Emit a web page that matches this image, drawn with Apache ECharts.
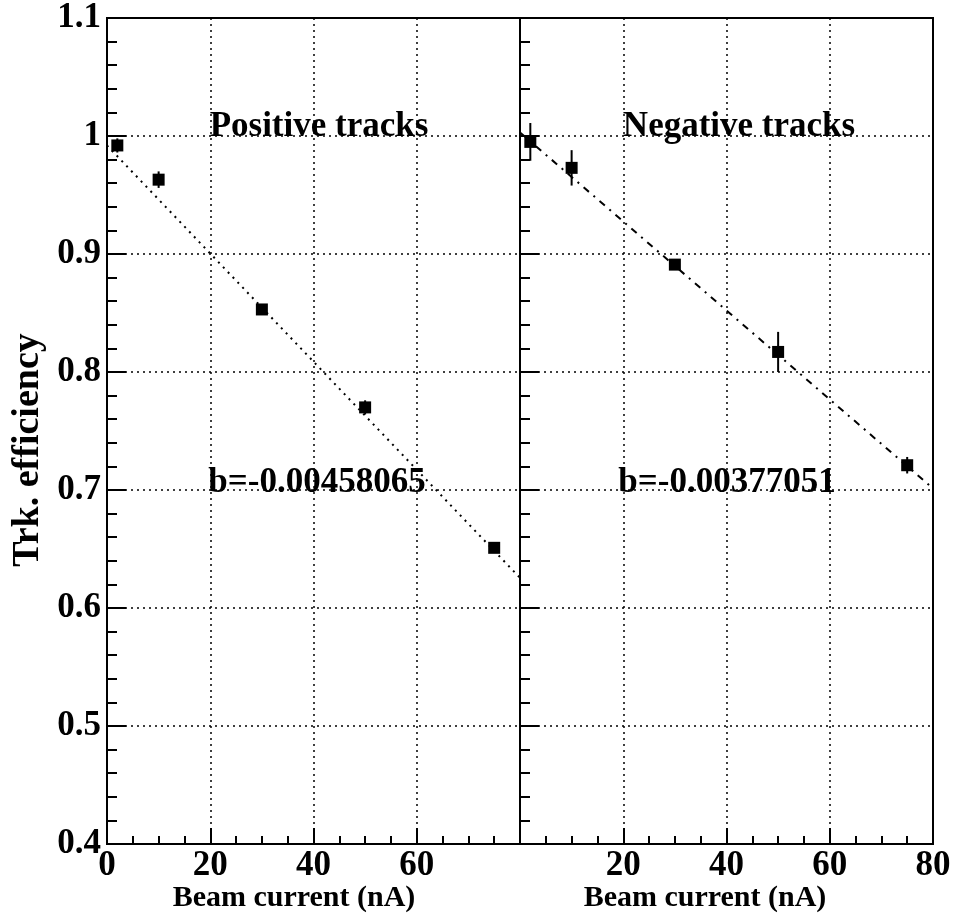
<!DOCTYPE html>
<html>
<head>
    <meta charset="utf-8">
    <title>Trk. efficiency</title>
    <script src="https://cdn.jsdelivr.net/npm/echarts@6/dist/echarts.min.js"></script>
    <style>
        html, body { margin: 0; padding: 0; background: #fff; }
        #main { width: 955px; height: 923px; }
    </style>
</head>
<body>
<div id="main"></div>
<script type="text/javascript">
    // beam currents (nA)
    var currents = [2, 10, 30, 50, 75];
    // positive tracks
    var posEff = [0.992, 0.963, 0.853, 0.77, 0.651];
    var posErr = [0.006, 0.007, 0.004, 0.006, 0.004];
    // negative tracks
    var negEff = [0.995, 0.973, 0.891, 0.817, 0.721];
    var negErr = [0.016, 0.015, 0.004, 0.017, 0.007];
    // linear fits  y = a + b*x
    var posFit = [0.992, -0.00458065];
    var negFit = [1.003, -0.00377051];
    var fitRange = [0, 80];

    var FONT = 'Liberation Serif';

    function pts(ys, errs) {
        return currents.map(function (x, i) { return [x, ys[i], errs[i]]; });
    }
    function fitLine(p) {
        return fitRange.map(function (x) { return [x, p[0] + p[1] * x]; });
    }
    function errBar(params, api) {
        var x = api.value(0), y = api.value(1), e = api.value(2);
        var a = api.coord([x, y + e]);
        var b = api.coord([x, y - e]);
        return {
            type: 'line',
            shape: {x1: a[0], y1: a[1], x2: b[0], y2: b[1]},
            style: {stroke: '#000', lineWidth: 2}
        };
    }

    var dotted = {color: '#000', width: 1.5, type: [2, 4]};

    function xAxis(idx, hide) {
        return {
            gridIndex: idx, type: 'value', min: 0, max: 80, interval: 20,
            axisLine: {show: true, onZero: false, lineStyle: {color: '#000', width: 2}},
            axisTick: {show: true, inside: true, length: 16, lineStyle: {color: '#000', width: 2}},
            minorTick: {show: true, splitNumber: 4, length: 8, lineStyle: {color: '#000', width: 2}},
            splitLine: {show: true, lineStyle: dotted},
            axisLabel: {
                show: true, margin: 4, color: '#000', fontFamily: FONT, fontWeight: 'bold', fontSize: 35,
                formatter: function (v) { return v === hide ? '' : String(v); }
            }
        };
    }
    function yAxis(idx, labels) {
        return {
            gridIndex: idx, type: 'value', min: 0.4, max: 1.1, interval: 0.1,
            axisLine: {show: true, onZero: false, lineStyle: {color: '#000', width: 2}},
            axisTick: {show: true, inside: true, length: 19, lineStyle: {color: '#000', width: 2}},
            minorTick: {show: true, splitNumber: 5, length: 10, lineStyle: {color: '#000', width: 2}},
            splitLine: {show: true, lineStyle: dotted},
            axisLabel: {
                show: labels, margin: 6, color: '#000', fontFamily: FONT, fontWeight: 'bold', fontSize: 35,
                formatter: function (v) { return String(+v.toFixed(1)); }
            }
        };
    }
    function txt(x, y, s, size, rot) {
        return {
            type: 'text', x: x, y: y, rotation: rot || 0,
            style: {
                text: s, fill: '#000', fontFamily: FONT, fontWeight: 'bold', fontSize: size,
                textAlign: 'center', textVerticalAlign: 'middle'
            },
            z: 100
        };
    }

    var myChart = echarts.init(document.getElementById('main'));
    var option = {
        backgroundColor: '#fff',
        animation: false,
        grid: [
            {left: 107, top: 18, width: 413, height: 826, show: true, borderColor: '#000', borderWidth: 2, backgroundColor: 'transparent'},
            {left: 520, top: 18, width: 413, height: 826, show: true, borderColor: '#000', borderWidth: 2, backgroundColor: 'transparent'}
        ],
        xAxis: [xAxis(0, 80), xAxis(1, 0)],
        yAxis: [yAxis(0, true), yAxis(1, false)],
        graphic: [
            txt(319, 127, 'Positive tracks', 35),
            txt(739, 127, 'Negative tracks', 35),
            txt(317, 483, 'b=-0.00458065', 35),
            txt(727, 483, 'b=-0.00377051', 35),
            txt(294, 898, 'Beam current (nA)', 30),
            txt(705, 898, 'Beam current (nA)', 30),
            txt(28, 450, 'Trk. efficiency', 38, Math.PI / 2)
        ],
        series: [
            {
                type: 'line', xAxisIndex: 0, yAxisIndex: 0, data: fitLine(posFit),
                symbol: 'none', lineStyle: {color: '#000', width: 2, type: [2, 5]}, z: 3
            },
            {
                type: 'line', xAxisIndex: 1, yAxisIndex: 1, data: fitLine(negFit),
                symbol: 'none', lineStyle: {color: '#000', width: 2, type: [7, 6, 2, 6]}, z: 3
            },
            {
                type: 'custom', xAxisIndex: 0, yAxisIndex: 0, data: pts(posEff, posErr),
                renderItem: errBar, z: 4
            },
            {
                type: 'custom', xAxisIndex: 1, yAxisIndex: 1, data: pts(negEff, negErr),
                renderItem: errBar, z: 4
            },
            {
                type: 'scatter', xAxisIndex: 0, yAxisIndex: 0, data: pts(posEff, posErr),
                symbol: 'rect', symbolSize: 12, itemStyle: {color: '#000', opacity: 1}, z: 5
            },
            {
                type: 'scatter', xAxisIndex: 1, yAxisIndex: 1, data: pts(negEff, negErr),
                symbol: 'rect', symbolSize: 12, itemStyle: {color: '#000', opacity: 1}, z: 5
            }
        ]
    };
    myChart.setOption(option);
</script>
</body>
</html>
